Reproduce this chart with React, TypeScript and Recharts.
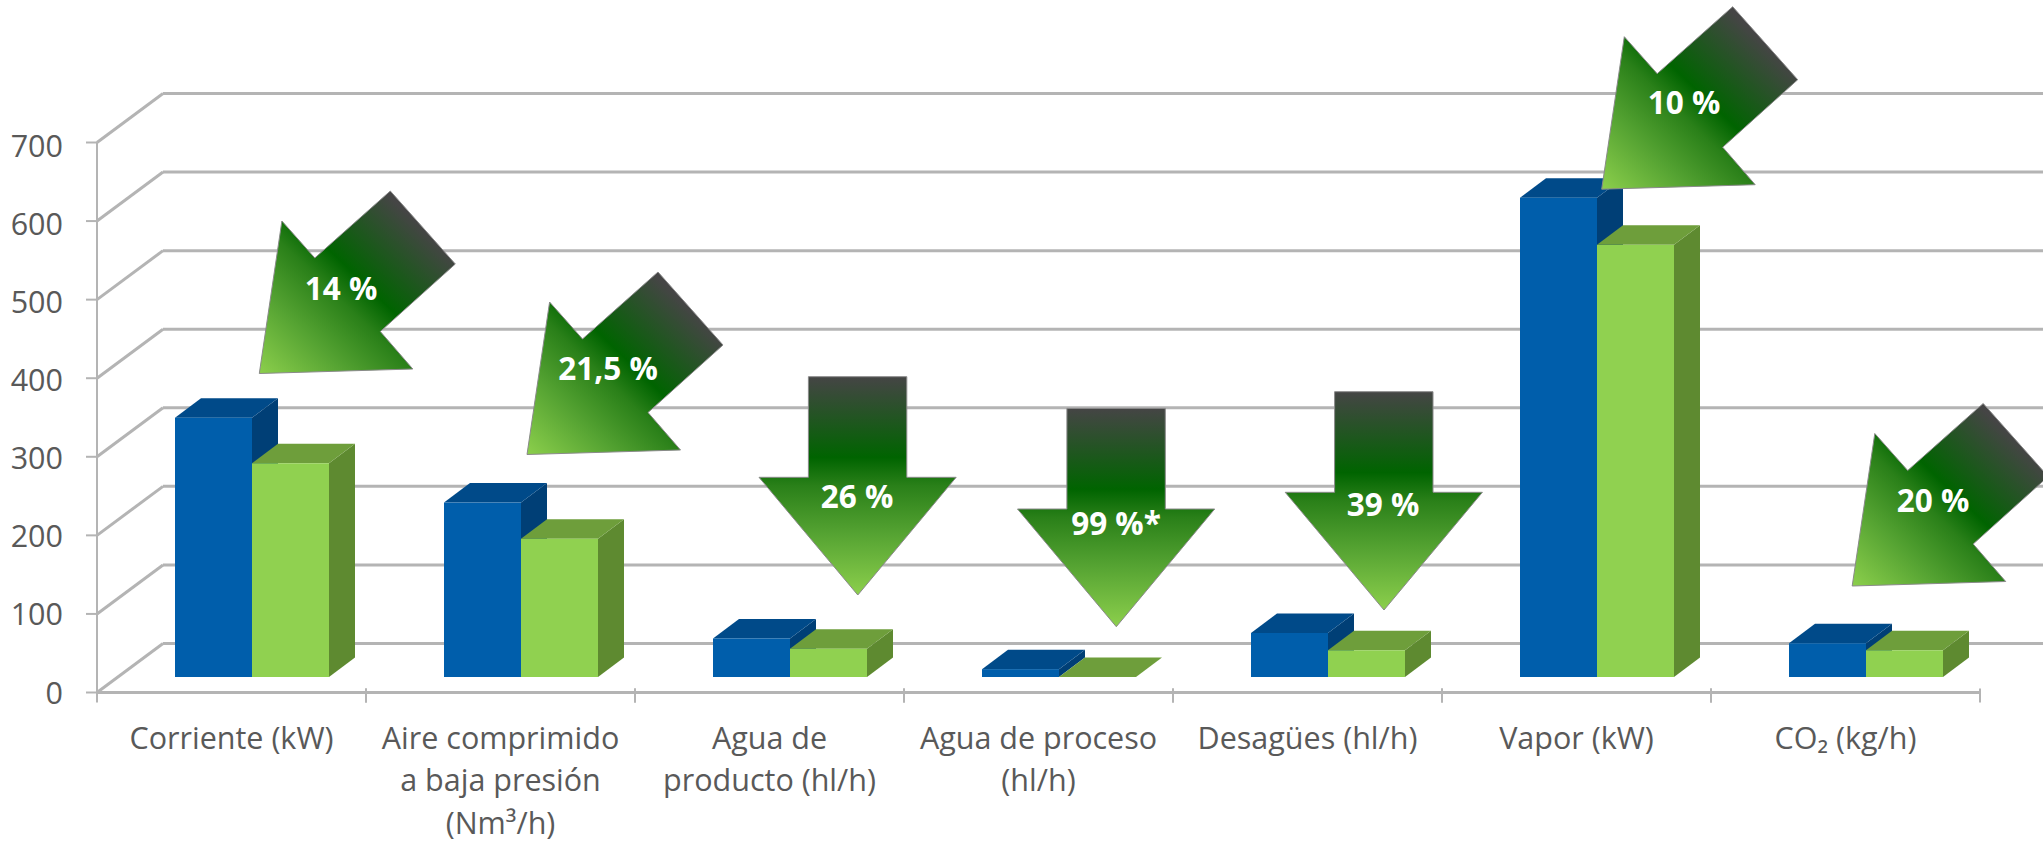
import { Bar, BarChart, CartesianGrid, XAxis, YAxis } from "recharts";

const categories = [
  "Corriente (kW)",
  "Aire comprimido\na baja presión\n(Nm³/h)",
  "Agua de\nproducto (hl/h)",
  "Agua de proceso\n(hl/h)",
  "Desagües (hl/h)",
  "Vapor (kW)",
  "CO₂ (kg/h)",
];
const consumoAntes = [330, 222, 49, 10, 56, 610, 43];
const consumoDespues = [272, 176, 36, 0.1, 34, 550, 34];
const ahorros = ["14 %", "21,5 %", "26 %", "99 %*", "39 %", "10 %", "20 %"];
const yTicks = [0, 100, 200, 300, 400, 500, 600, 700];

const data = categories.map((name, i) => ({ name, antes: consumoAntes[i], despues: consumoDespues[i] }));

const WIDTH = 2043;
const HEIGHT = 842;
const FONT = "'Open Sans', sans-serif";
const TEXT = "#595959";
const LINE = "#b4b4b4";

// callout arrows: tip position + label position for each entry of ahorros
const arrowSpots = [
  { kind: "diag", tipX: 259.3, tipY: 373.5, labelX: 341, labelY: 288.5 },
  { kind: "diag", tipX: 527, tipY: 454.5, labelX: 608, labelY: 369 },
  { kind: "down", tipX: 857.8, tipY: 595, labelX: 857, labelY: 496.5 },
  { kind: "down", tipX: 1116.3, tipY: 626.7, labelX: 1116, labelY: 524 },
  { kind: "down", tipX: 1384, tipY: 610, labelX: 1383, labelY: 505 },
  { kind: "diag", tipX: 1601.7, tipY: 189.2, labelX: 1684, labelY: 103 },
  { kind: "diag", tipX: 1852.2, tipY: 586, labelX: 1933, labelY: 500.5 },
];
const diagShape = [[0, 0], [22.6, -152.5], [55.5, -115.5], [131, -182.5], [196, -109.5], [121, -42], [153.5, -4.5]];
const downShape = [[0, 0], [-98.8, -117.7], [-49.4, -117.7], [-49.4, -218.3], [49, -218.3], [49, -117.7], [98.4, -117.7]];

function Box3D(props: any) {
  const { x, y, width, height, front, top, side } = props;
  // the columns stand in the middle of the floor, not on its front edge
  const left = x + 20;
  const right = left + width;
  const up = y - 15.5;
  const down = up + height;
  const dx = 26;
  const dy = 19.5;
  return (
    <g>
      <polygon points={`${right},${up} ${right + dx},${up - dy} ${right + dx},${down - dy} ${right},${down}`} fill={side} />
      <polygon points={`${left},${up} ${left + dx},${up - dy} ${right + dx},${up - dy} ${right},${up}`} fill={top} />
      <rect x={left} y={up} width={width} height={height} fill={front} />
    </g>
  );
}

function GridLine(props: any) {
  const { x1, x2, y1 } = props;
  const dx = 66;
  const dy = 49;
  return (
    <g key={props.key}>
      <line x1={x1} y1={y1} x2={x1 + dx} y2={y1 - dy} stroke={LINE} strokeWidth={3} />
      <line x1={x1 + dx} y1={y1 - dy} x2={x2 + dx} y2={y1 - dy} stroke={LINE} strokeWidth={3} />
    </g>
  );
}

function YTick(props: any) {
  const value = props.payload.value;
  return (
    <text x={props.x} y={props.y} dy={11 + value * 0.0057} textAnchor="end" fontSize={30.5} fontFamily={FONT} fill={TEXT}>
      {value}
    </text>
  );
}

function XTick(props: any) {
  const { x, y, payload } = props;
  const band = (WIDTH - 97 - 63) / categories.length;
  const lines = String(payload.value).split("\n");
  return (
    <g>
      <line x1={x - band / 2} y1={y - 4} x2={x - band / 2} y2={y + 10} stroke={LINE} strokeWidth={2} />
      <line x1={x + band / 2} y1={y - 4} x2={x + band / 2} y2={y + 10} stroke={LINE} strokeWidth={2} />
      {lines.map((line, i) => (
        <text key={i} x={x} y={y + 56 + i * 42.5} textAnchor="middle" fontSize={30.5} fontFamily={FONT} fill={TEXT}>
          {line}
        </text>
      ))}
    </g>
  );
}

function fillStops() {
  return (
    <>
      <stop offset="0" stopColor="#454545" />
      <stop offset="0.37" stopColor="#006400" />
      <stop offset="0.5" stopColor="#2a8019" />
      <stop offset="0.72" stopColor="#55a332" />
      <stop offset="1" stopColor="#8ccf4c" />
    </>
  );
}

function Arrows() {
  return (
    <svg width={WIDTH} height={HEIGHT} style={{ position: "absolute", left: 0, top: 0, pointerEvents: "none" }}>
      <defs>
        <linearGradient id="diagFill" x1="0.83" y1="0.2" x2="0" y2="1">
          {fillStops()}
        </linearGradient>
        <linearGradient id="downFill" x1="0" y1="0" x2="0" y2="1">
          {fillStops()}
        </linearGradient>
      </defs>
      {ahorros.map((label, i) => {
        const spot = arrowSpots[i];
        const shape = spot.kind === "diag" ? diagShape : downShape;
        const points = shape.map(([px, py]) => `${spot.tipX + px},${spot.tipY + py}`).join(" ");
        return (
          <g key={label}>
            <polygon points={points} fill={`url(#${spot.kind}Fill)`} stroke="#8a8a8a" strokeWidth={1} />
            <text x={spot.labelX} y={spot.labelY + 11} textAnchor="middle" fontSize={31.5} fontWeight={700} fontFamily={FONT} fill="#ffffff">
              {label}
            </text>
          </g>
        );
      })}
    </svg>
  );
}

export default function App() {
  return (
    <div style={{ position: "absolute", left: 0, top: 0, width: WIDTH, height: HEIGHT, background: "#fff", overflow: "hidden" }}>
      <BarChart
        width={WIDTH}
        height={HEIGHT}
        data={data}
        margin={{ top: 142.5, right: 63, bottom: 0, left: 0 }}
        barSize={77}
        barGap={0}
      >
        <CartesianGrid vertical={false} horizontal={(p: any) => <GridLine {...p} />} />
        <XAxis
          dataKey="name"
          interval={0}
          height={149.5}
          axisLine={{ stroke: LINE, strokeWidth: 3 }}
          tickLine={false}
          tickSize={0}
          tickMargin={0}
          tick={(p: any) => <XTick {...p} />}
        />
        <YAxis
          domain={[0, 700]}
          ticks={yTicks}
          width={97}
          axisLine={{ stroke: LINE, strokeWidth: 2 }}
          tickLine={{ stroke: LINE, strokeWidth: 2 }}
          tickSize={11}
          tickMargin={23}
          tick={(p: any) => <YTick {...p} />}
        />
        <Bar dataKey="antes" isAnimationActive={false} shape={(p: any) => <Box3D {...p} front="#005eab" top="#004a89" side="#003f76" />} />
        <Bar dataKey="despues" isAnimationActive={false} shape={(p: any) => <Box3D {...p} front="#90d150" top="#6e9e3b" side="#5e8a30" />} />
      </BarChart>
      <Arrows />
    </div>
  );
}
